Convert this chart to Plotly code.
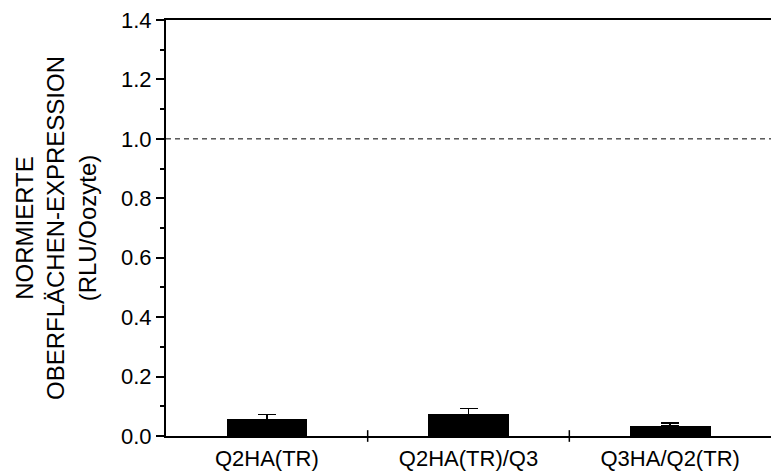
import plotly.graph_objects as go

categories = ["Q2HA(TR)", "Q2HA(TR)/Q3", "Q3HA/Q2(TR)"]
values = [0.056, 0.073, 0.034]
errors = [0.016, 0.019, 0.009]
reference_level = 1.0
y_ticks = [0.0, 0.2, 0.4, 0.6, 0.8, 1.0, 1.2, 1.4]
y_title = "NORMIERTE<br>OBERFLÄCHEN-EXPRESSION<br>(RLU/Oozyte)"

x_pos = list(range(len(categories)))
font_family = "Liberation Sans, Arial, sans-serif"

fig = go.Figure()
fig.add_trace(go.Bar(
    x=x_pos, y=values, width=0.4,
    marker=dict(color="black", line=dict(width=0)),
    error_y=dict(type="data", symmetric=False, array=errors,
                 arrayminus=[0] * len(errors), color="black",
                 thickness=1.5, width=9),
    showlegend=False,
))

# dashed reference line at 1.0
fig.add_shape(type="line", xref="paper", yref="y", x0=0, x1=1,
              y0=reference_level, y1=reference_level,
              line=dict(color="black", width=1, dash="5px,4px"))

# category boundary ticks crossing the x axis
for b in [0.5, 1.5]:
    fig.add_shape(type="line", xref="x", yref="paper", x0=b, x1=b,
                  y0=-0.014, y1=0.014, line=dict(color="black", width=1.5))

fig.update_layout(
    width=771, height=475,
    margin=dict(l=166, r=0, t=20, b=39),
    plot_bgcolor="white", paper_bgcolor="white",
    font=dict(family=font_family, size=22, color="black"),
    bargap=0,
    xaxis=dict(
        range=[-0.5, 2.5], tickvals=x_pos, ticktext=categories,
        ticks="", showgrid=False, zeroline=False,
        showline=True, linecolor="black", linewidth=2, mirror=True,
        tickfont=dict(size=22), ticklabelstandoff=2,
    ),
    yaxis=dict(
        range=[0, 1.4], tickvals=y_ticks, tickformat=".1f",
        ticks="outside", ticklen=8, tickwidth=1.5, tickcolor="black",
        minor=dict(dtick=0.1, tick0=0, ticks="outside", ticklen=4,
                   tickwidth=1.5, tickcolor="black", showgrid=False),
        showgrid=False, zeroline=False,
        showline=True, linecolor="black", linewidth=2,
        tickfont=dict(size=22),
        title=dict(text=y_title, font=dict(size=24), standoff=18),
    ),
)

fig.write_html("out.html")
